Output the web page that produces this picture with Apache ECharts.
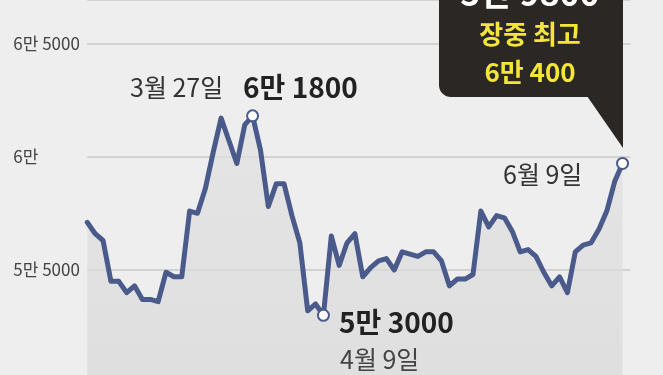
<!DOCTYPE html>
<html>
<head>
<meta charset="utf-8">
<script src="https://cdn.jsdelivr.net/npm/echarts@6/dist/echarts.min.js"></script>
<style>
html,body{margin:0;padding:0;background:#eeeeee;}
#chart{width:663px;height:375px;}
</style>
</head>
<body>
<div id="chart"></div>
<script>
// trading days (last empty slot keeps grid running past the last point)
const categories = [
  '2/25','2/26','2/27','2/28','3/4','3/5','3/6','3/7','3/10','3/11','3/12','3/13','3/14',
  '3/17','3/18','3/19','3/20','3/21','3/24','3/25','3/26','3/27','3/28','3/31',
  '4/1','4/2','4/3','4/4','4/7','4/8','4/9','4/10','4/11','4/14','4/15','4/16','4/17','4/18',
  '4/21','4/22','4/23','4/24','4/25','4/28','4/29','4/30','5/2','5/7','5/8','5/9',
  '5/12','5/13','5/14','5/15','5/16','5/19','5/20','5/21','5/22','5/23',
  '5/26','5/27','5/28','5/29','5/30','6/2','6/4','6/5','6/9',''
];
const prices = [
  57100,56600,56300,54500,54500,54000,54300,53700,53700,53600,54900,54700,54700,
  57600,57500,58600,60200,61700,60700,59700,61400,61800,60300,57800,
  58800,58800,57400,56200,53200,53500,53000,56500,55200,56200,56600,54700,55100,55400,
  55500,55000,55800,55700,55600,55800,55800,55400,54300,54600,54600,54800,
  57600,56900,57400,57300,56700,55800,55900,55600,54900,54300,
  54700,54000,55800,56100,56200,56800,57600,58900,59700
];
const markerIdx = [21, 30, 68];
const yTickValues = [55000, 60000, 65000];
const yTickLabels = ['5만 5000', '6만', '6만 5000'];

const KR = '"Noto Sans CJK KR", "Noto Sans", sans-serif';
const chart = echarts.init(document.getElementById('chart'));
chart.setOption({
  backgroundColor: '#eeeeee',
  animation: false,
  grid: { left: 87.3, top: 0, height: 383.3, right: 32.6, outerBoundsMode: 'none', containLabel: false },
  xAxis: {
    type: 'category', data: categories, boundaryGap: false,
    axisLine: { show: false }, axisTick: { show: false }, axisLabel: { show: false }, splitLine: { show: false }
  },
  yAxis: {
    type: 'value', min: 50000, max: 66912, interval: 5000,
    axisLine: { show: false }, axisTick: { show: false },
    splitLine: { lineStyle: { color: '#c8c8c8', width: 1.5 } },
    axisLabel: {
      align: 'left', margin: 74, color: '#444', fontFamily: KR, fontSize: 17,
      showMaxLabel: false,
      formatter: v => { const k = yTickValues.indexOf(v); return k >= 0 ? yTickLabels[k] : ''; }
    }
  },
  series: [
    {
      type: 'line', data: prices, symbol: 'none', z: 3,
      lineStyle: { color: '#4a5a8b', width: 5, join: 'round', cap: 'round' },
      areaStyle: {
        color: { type: 'linear', x: 0, y: 0, x2: 0, y2: 1, colorStops: [
          { offset: 0, color: '#e1e1e1' }, { offset: 1, color: '#d8d8d8' } ] }
      }
    },
    {
      type: 'scatter', z: 5, symbol: 'circle', symbolSize: 11,
      data: markerIdx.map(i => [i, prices[i]]),
      itemStyle: { color: '#ffffff', borderColor: '#4a5a8b', borderWidth: 2, opacity: 1 }
    }
  ],
  graphic: [
    { type: 'rect', shape: { x: 439, y: -20, width: 184, height: 117, r: [0, 0, 0, 12] }, style: { fill: '#2a2725' }, z: 10 },
    { type: 'polygon', shape: { points: [[587, 96], [623, 96], [623, 148]] }, style: { fill: '#2a2725' }, z: 10 },
    { type: 'text', x: 530, y: -7, z: 11, style: { text: '5만 9800', fill: '#ffffff', font: 'bold 34px ' + KR, align: 'center', verticalAlign: 'middle' } },
    { type: 'text', x: 530, y: 34, z: 11, style: { text: '장중 최고', fill: '#f3e53a', font: 'bold 26px ' + KR, align: 'center', verticalAlign: 'middle' } },
    { type: 'text', x: 530, y: 72, z: 11, style: { text: '6만 400', fill: '#f3e53a', font: 'bold 26px ' + KR, align: 'center', verticalAlign: 'middle' } },
    { type: 'text', x: 130, y: 87, z: 11, style: { text: '3월 27일', fill: '#333', font: '25px ' + KR, align: 'left', verticalAlign: 'middle' } },
    { type: 'text', x: 243, y: 87, z: 11, style: { text: '6만 1800', fill: '#222', font: 'bold 28px ' + KR, align: 'left', verticalAlign: 'middle' } },
    { type: 'text', x: 339, y: 322, z: 11, style: { text: '5만 3000', fill: '#222', font: 'bold 28px ' + KR, align: 'left', verticalAlign: 'middle' } },
    { type: 'text', x: 340, y: 359, z: 11, style: { text: '4월 9일', fill: '#444', font: '25px ' + KR, align: 'left', verticalAlign: 'middle' } },
    { type: 'text', x: 503, y: 174, z: 11, style: { text: '6월 9일', fill: '#333', font: '25px ' + KR, align: 'left', verticalAlign: 'middle' } }
  ]
});
</script>
</body>
</html>
